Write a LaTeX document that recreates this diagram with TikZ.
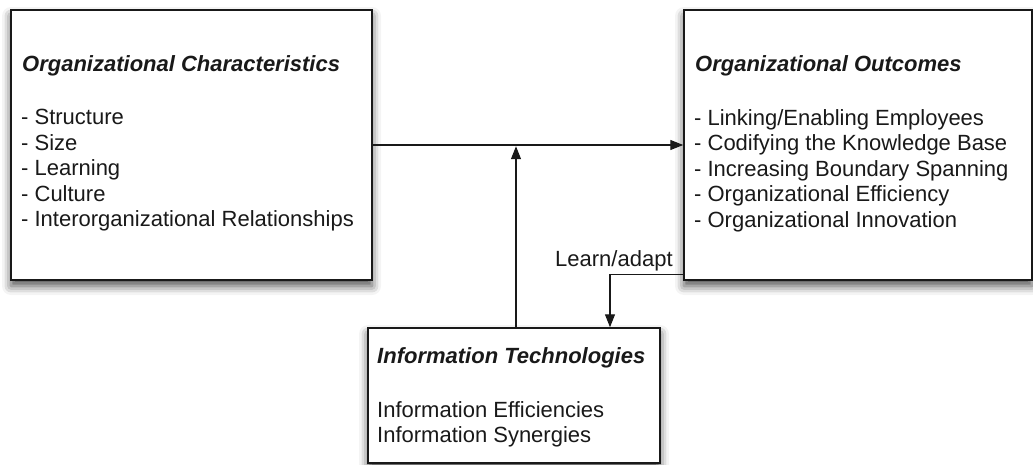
\documentclass[tikz,border=0pt]{standalone}
\usepackage{fontspec}
\setmainfont{Liberation Sans}
\usetikzlibrary{arrows.meta,shadows.blur}
\definecolor{ink}{RGB}{25,25,25}
\tikzset{
  box/.style={draw=ink, line width=1.5pt, fill=white, inner sep=0pt,
    blur shadow={shadow xshift=0pt, shadow yshift=-6pt, shadow blur radius=9pt, shadow opacity=70}},
  ttl/.style={anchor=base west, inner sep=0pt, text=ink, font=\fontsize{22}{25.5}\selectfont\bfseries\itshape},
  body/.style={anchor=north west, inner sep=0pt, text=ink, align=left, font=\fontsize{22}{25.5}\selectfont},
  arr/.style={draw=ink, line width=1.2pt, -{Triangle[length=13pt,width=10pt]}}
}
\begin{document}
\begin{tikzpicture}[x=1pt,y=-1pt]
\useasboundingbox (0,0) rectangle (1033,465);
\node[box, minimum width=361pt, minimum height=270pt] (oc) at (191.5,145) {};
\node[box, minimum width=348pt, minimum height=270pt] (oo) at (858,145) {};
\node[box, minimum width=292pt, minimum height=135pt] (it) at (514,395.5) {};

\node[ttl] (oct) at (22,72) {Organizational Characteristics};
\node[body] (ocb) at (21,109) {- Structure\\- Size\\- Learning\\- Culture\\- Interorganizational Relationships};

\node[ttl] (oot) at (695,72) {Organizational Outcomes};
\node[body] (oob) at (694,109) {- Linking/Enabling Employees\\- Codifying the Knowledge Base\\- Increasing Boundary Spanning\\- Organizational Efficiency\\- Organizational Innovation};

\node[ttl] (itt) at (377,363) {Information Technologies};
\node[body] (itb) at (377,401) {Information Efficiencies\\Information Synergies};

\node[anchor=base west, inner sep=0pt, text=ink, font=\fontsize{22}{25.5}\selectfont] (la) at (555,266) {Learn/adapt};

\draw[arr] (oc.east) -- (oo.west);
\draw[arr] ([xshift=2pt]it.north) -- ++(0,-181);
\draw[arr] ([yshift=6pt]oo.south west) -| ([xshift=96pt]it.north);
\end{tikzpicture}
\end{document}
